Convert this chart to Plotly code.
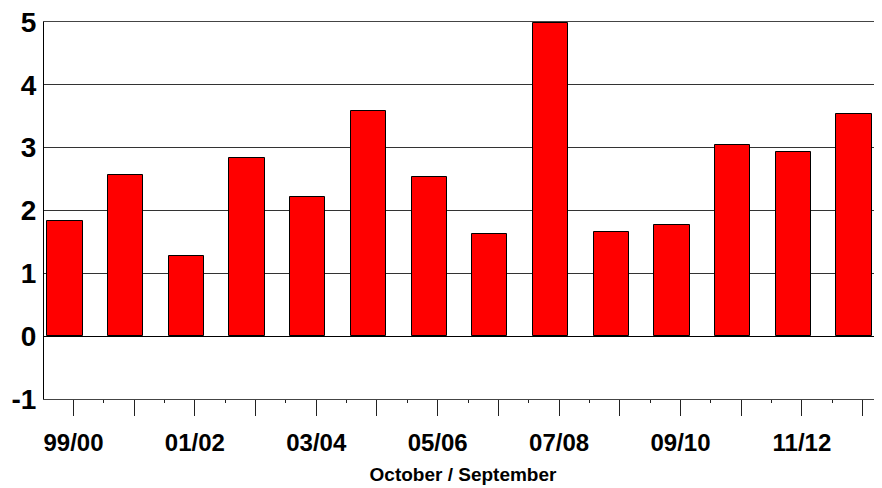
import plotly.graph_objects as go

seasons = ['99/00', '00/01', '01/02', '02/03', '03/04', '04/05', '05/06',
           '06/07', '07/08', '08/09', '09/10', '10/11', '11/12', '12/13']
values = [1.84, 2.56, 1.28, 2.83, 2.22, 3.58, 2.54,
          1.62, 4.99, 1.66, 1.77, 3.04, 2.93, 3.54]
y_ticks = [-1, 0, 1, 2, 3, 4, 5]
y_tick_text = ['-1', '0', '1', '2', '3', '4', '5']

positions = list(range(len(seasons)))
# labels only on every other season, as in the original
tick_text = [s if i % 2 == 0 else '' for i, s in enumerate(seasons)]
tick_offset = 0.14

fig = go.Figure()
fig.add_trace(go.Bar(
    x=positions,
    y=values,
    width=0.58,
    marker=dict(color='#FF0000', line=dict(color='#000000', width=1)),
    hovertext=seasons,
))

# page body keeps its default 8px margin, so the figure is a bit smaller
fig.update_layout(
    width=874,
    height=480,
    margin=dict(l=36, r=0, t=14, b=89),
    paper_bgcolor='white',
    plot_bgcolor='white',
    showlegend=False,
    bargap=0,
)

fig.update_xaxes(
    automargin=False,
    range=[-0.346, 13.46],
    tickmode='array',
    tickvals=[p + tick_offset for p in positions],
    ticktext=tick_text,
    ticks='outside',
    ticklen=16,
    tickcolor='#222222',
    tickfont=dict(family='Liberation Sans, Arial', size=24, color='black', weight='bold'),
    ticklabelstandoff=6,
    ticklabeloverflow='allow',
    minor=dict(tickvals=[p + tick_offset + 0.5 for p in positions],
               ticks='outside', ticklen=3, tickcolor='#222222'),
    showgrid=False,
    showline=True,
    mirror=True,
    linecolor='#444444',
    linewidth=1,
    zeroline=False,
    title=dict(text='October / September',
               font=dict(family='Liberation Sans, Arial', size=19, color='black', weight='bold'),
               standoff=12),
)

fig.update_yaxes(
    automargin=False,
    range=[-1, 5],
    tickmode='array',
    tickvals=y_ticks,
    ticktext=y_tick_text,
    ticks='',
    tickfont=dict(family='Liberation Sans, Arial', size=28, color='black', weight='bold'),
    ticklabelstandoff=1,
    ticklabeloverflow='allow',
    showgrid=True,
    gridcolor='#333333',
    gridwidth=1,
    zeroline=True,
    zerolinecolor='#000000',
    zerolinewidth=1,
    showline=True,
    linecolor='#000000',
    linewidth=1,
)

fig.write_html('out.html')
